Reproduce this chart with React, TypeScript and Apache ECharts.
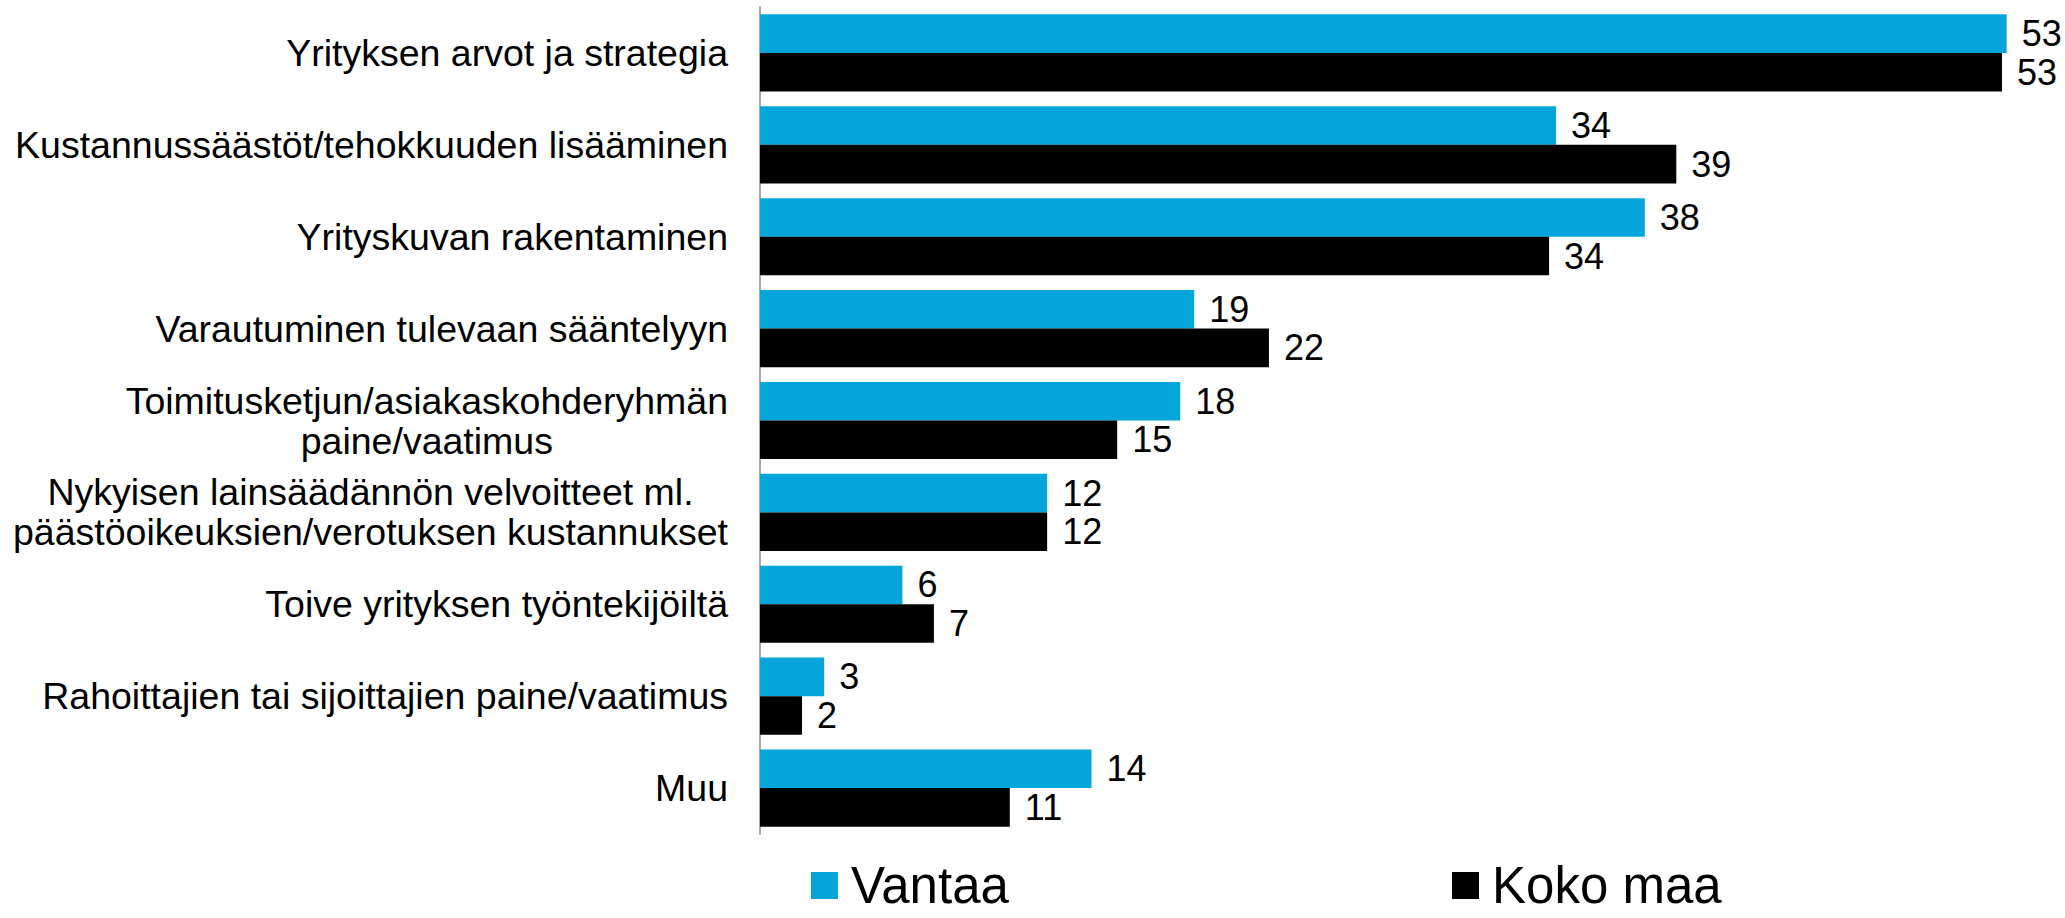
import React, { useEffect, useRef } from "react";
import * as echarts from "echarts";

const categories = [
  "Yrityksen arvot ja strategia",
  "Kustannussäästöt/tehokkuuden lisääminen",
  "Yrityskuvan rakentaminen",
  "Varautuminen tulevaan sääntelyyn",
  "Toimitusketjun/asiakaskohderyhmän\npaine/vaatimus",
  "Nykyisen lainsäädännön velvoitteet ml.\npäästöoikeuksien/verotuksen kustannukset",
  "Toive yrityksen työntekijöiltä",
  "Rahoittajien tai sijoittajien paine/vaatimus",
  "Muu",
];
const seriesNames = ["Vantaa", "Koko maa"];
// values; labels show them rounded
const vantaa = [53.4, 34.1, 37.9, 18.6, 18.0, 12.3, 6.1, 2.75, 14.2];
const kokoMaa = [53.2, 39.25, 33.8, 21.8, 15.3, 12.3, 7.45, 1.8, 10.7];

const FONT = "'Liberation Sans', Arial, sans-serif";

export default function App() {
  const ref = useRef<HTMLDivElement>(null);
  useEffect(() => {
    if (!ref.current) return;
    const chart = echarts.init(ref.current, null, { renderer: "svg" });
    const labelStyle = {
      show: true,
      position: "right" as const,
      distance: 15,
      fontSize: 36,
      color: "#000",
      fontFamily: FONT,
      formatter: (p: any) => String(Math.round(p.value)),
    };
    const legendText = {
      fontSize: 51,
      lineHeight: 51,
      color: "#000",
      fontFamily: FONT,
      padding: [0, 0, 0, 8],
    };
    chart.setOption({
      animation: false,
      backgroundColor: "#fff",
      textStyle: { fontFamily: FONT },
      grid: { left: 760, top: 7, height: 827, width: 1284 },
      legend: [
        {
          data: [seriesNames[0]],
          left: 811,
          top: 860,
          padding: 0,
          icon: "rect",
          itemWidth: 27,
          itemHeight: 27,
          textStyle: legendText,
        },
        {
          data: [seriesNames[1]],
          left: 1452,
          top: 860,
          padding: 0,
          icon: "rect",
          itemWidth: 27,
          itemHeight: 27,
          textStyle: legendText,
        },
      ],
      xAxis: {
        type: "value",
        min: 0,
        max: 55,
        show: false,
        splitLine: { show: false },
      },
      yAxis: {
        type: "category",
        data: categories,
        inverse: true,
        axisTick: { show: false },
        axisLine: { show: true, lineStyle: { color: "#A6A6A6", width: 2 } },
        axisLabel: {
          margin: 32,
          formatter: (v: string) => v.split("\n").map((l) => `{c|${l}}`).join("\n"),
          rich: {
            c: { fontSize: 37.5, lineHeight: 40, align: "center", color: "#000", fontFamily: FONT },
          },
        },
      },
      series: [
        {
          name: seriesNames[0],
          type: "bar",
          data: vantaa,
          itemStyle: { color: "#03A5DA" },
          barGap: "0%",
          barCategoryGap: "16%",
          label: labelStyle,
        },
        {
          name: seriesNames[1],
          type: "bar",
          data: kokoMaa,
          itemStyle: { color: "#000000" },
          barGap: "0%",
          barCategoryGap: "16%",
          label: labelStyle,
        },
      ],
    });
    return () => chart.dispose();
  }, []);
  return (
    <div
      ref={ref}
      style={{ position: "fixed", left: 0, top: 0, width: 2065, height: 918, background: "#fff" }}
    />
  );
}
